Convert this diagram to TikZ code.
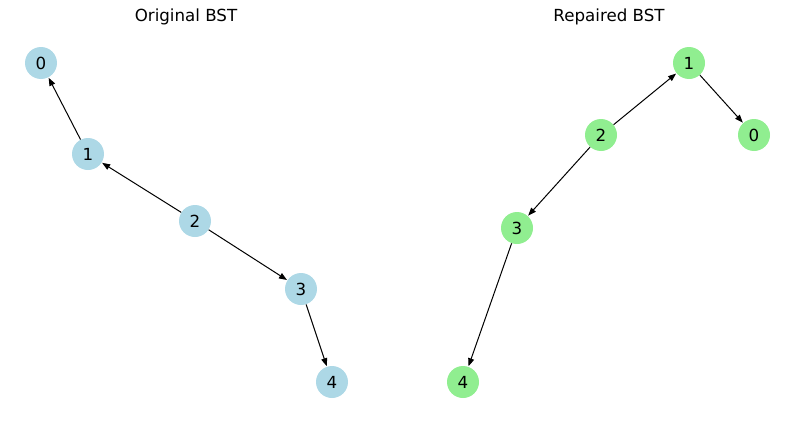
\documentclass[tikz,border=0pt]{standalone}
\usepackage{fontspec}
\setmainfont{DejaVu Sans}
\usetikzlibrary{arrows.meta}
\definecolor{lblue}{RGB}{173,216,230}
\definecolor{lgreen}{RGB}{144,238,144}
\tikzset{
  bnode/.style={circle, fill=lblue, minimum size=24pt, inner sep=0pt, font=\fontsize{12.5}{14}\selectfont},
  gnode/.style={circle, fill=lgreen, minimum size=24pt, inner sep=0pt, font=\fontsize{12.5}{14}\selectfont},
  edge/.style={draw=black, line width=0.75pt, -{Triangle[length=6pt,width=4.5pt]}, shorten >=0.3pt},
  ttl/.style={font=\fontsize{12.5}{14}\selectfont, inner sep=0pt}
}
\begin{document}
\begin{tikzpicture}[x=0.75pt,y=-0.75pt]
\useasboundingbox (0,0) rectangle (794,425);
\node[ttl] (t1) at (186,17) {Original BST};
\node[ttl] (t2) at (609,17) {Repaired BST};
% left
\node[bnode] (a0) at (41,63) {0};
\node[bnode] (a1) at (88,154) {1};
\node[bnode] (a2) at (195,221) {2};
\node[bnode] (a3) at (301,289) {3};
\node[bnode] (a4) at (332,382) {4};
\draw[edge] (a1) -- (a0);
\draw[edge] (a2) -- (a1);
\draw[edge] (a2) -- (a3);
\draw[edge] (a3) -- (a4);
% right
\node[gnode] (b1) at (689,63) {1};
\node[gnode] (b0) at (754,135) {0};
\node[gnode] (b2) at (601,135) {2};
\node[gnode] (b3) at (517,228) {3};
\node[gnode] (b4) at (463,382) {4};
\draw[edge] (b2) -- (b1);
\draw[edge] (b1) -- (b0);
\draw[edge] (b2) -- (b3);
\draw[edge] (b3) -- (b4);
\end{tikzpicture}
\end{document}
